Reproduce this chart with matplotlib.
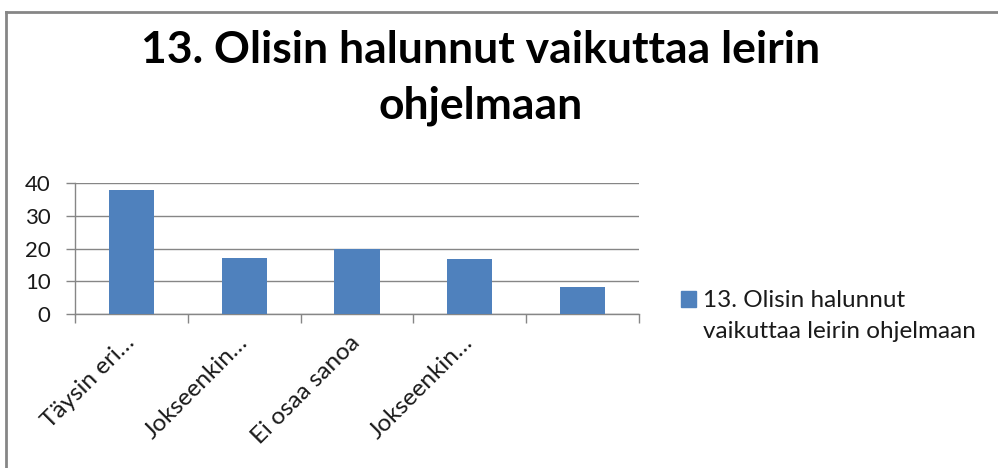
import matplotlib
matplotlib.use('Agg')
import matplotlib.pyplot as plt
from matplotlib.lines import Line2D
from matplotlib.transforms import ScaledTranslation
import numpy as np

# survey answers (percent)
categories = ['Täysin eri…', 'Jokseenkin…', 'Ei osaa sanoa', 'Jokseenkin…', '']
values = [38.1, 17.0, 19.9, 16.7, 8.4]
series_name = '13. Olisin halunnut\nvaikuttaa leirin ohjelmaan'
title = '13. Olisin halunnut vaikuttaa leirin\nohjelmaan'
yticks = [0, 10, 20, 30, 40]

barColor = '#4F81BD'
lineColor = '#868686'
fontName = 'Lato'
W, H = 998, 468


def fx(px):
    return px / W


def fy(px):
    return 1 - px / H


fig = plt.figure(figsize=(W / 100, H / 100), dpi=100)
ax = fig.add_axes([fx(75), fy(314), (639 - 75) / W, (314 - 183.3) / H])

x = np.arange(len(categories))
ax.bar(x, values, width=0.4, color=barColor, zorder=3)

ax.set_xlim(-0.5, len(categories) - 0.5)
ax.set_ylim(0, 40)
ax.set_yticks(yticks)
ax.set_yticklabels([str(t) for t in yticks], fontsize=16, fontname=fontName,
                   color='#1a1a1a')
ax.grid(axis='y', color=lineColor, linewidth=1, zorder=0)

# category boundaries get the tick marks, centers get the labels
ax.set_xticks(np.arange(len(categories) + 1) - 0.5)
ax.set_xticklabels([])
ax.set_xticks(x, minor=True)
ax.set_xticklabels(categories, minor=True, rotation=45, ha='right', va='center',
                   rotation_mode='anchor', fontsize=17.5, fontname=fontName,
                   color='#1a1a1a')
shift = ScaledTranslation(10 / 100, 0, fig.dpi_scale_trans)
for lbl in ax.get_xticklabels(minor=True):
    lbl.set_transform(lbl.get_transform() + shift)
ax.tick_params(axis='x', which='major', length=6.5, color=lineColor, width=1)
ax.tick_params(axis='x', which='minor', length=0, pad=18)
ax.tick_params(axis='y', length=6.5, color=lineColor, width=1, pad=11)

for side in ['top', 'right']:
    ax.spines[side].set_visible(False)
for side in ['left', 'bottom']:
    ax.spines[side].set_color(lineColor)
    ax.spines[side].set_linewidth(1)

# title, one baseline per line
titleLines = title.split('\n')
for line, base in zip(titleLines, [63, 119]):
    fig.text(fx(481), fy(base), line, ha='center', va='baseline', fontsize=32,
             fontweight='bold', fontname=fontName)

# legend drawn by hand so it sits like the original
fig.patches.append(plt.Rectangle((fx(681), fy(307)), 15 / W, 16 / H,
                                 transform=fig.transFigure, color=barColor))
for line, base in zip(series_name.split('\n'), [307, 338]):
    fig.text(fx(703), fy(base), line, ha='left', va='baseline',
             fontsize=17.5, fontname=fontName, color='#1a1a1a')

# chart frame (top and left edges only visible)
fig.add_artist(Line2D([fx(6), fx(997)], [fy(12), fy(12)],
                      transform=fig.transFigure, color=lineColor, linewidth=2))
fig.add_artist(Line2D([fx(6), fx(6)], [fy(12), 0],
                      transform=fig.transFigure, color=lineColor, linewidth=2))

plt.savefig('out.png', dpi=100)
